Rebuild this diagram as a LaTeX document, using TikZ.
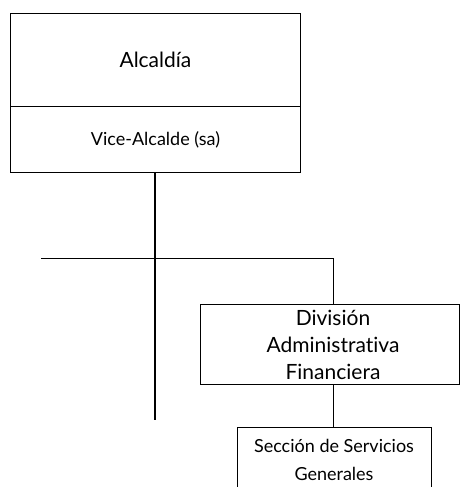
\documentclass[tikz,border=0pt]{standalone}
\usepackage{fontspec}
\setmainfont{Lato}[Ligatures=NoCommon]
\begin{document}
\begin{tikzpicture}[x=1pt,y=-1pt,
  box/.style={draw,line width=0.9pt,rectangle,inner sep=0pt,anchor=north west},
  conn/.style={line width=0.9pt},
  trunk/.style={line width=1.8pt}]
\useasboundingbox (0,0) rectangle (460,487);
\node[box,minimum width=290pt,minimum height=93pt,font=\fontsize{21}{24}\selectfont] (alc) at (10,13) {Alcaldía};
\node[box,minimum width=290pt,minimum height=66pt,font=\fontsize{18}{21}\selectfont] (vice) at (10,106) {Vice-Alcalde (sa)};
\node[box,minimum width=259pt,minimum height=80pt] (div) at (200,304) {};
\node[font=\fontsize{21}{27}\selectfont,align=center] (divt) at (333,345) {División\\Administrativa\\Financiera};
\node[box,minimum width=194pt,minimum height=70pt] (sec) at (237,427) {};
\node[font=\fontsize{18}{28}\selectfont,align=center,anchor=north] (sect) at (334,436) {Sección de Servicios\\Generales};
\coordinate (top) at (vice.south -| 155,0);
\coordinate (bot) at (155,420);
\coordinate (hl) at (41,258);
\coordinate (hr) at (333,258);
\draw[trunk] (top) -- (bot);
\draw[conn] (hl) -- (hr) -- (div.north -| hr);
\draw[conn] (div.south -| hr) -- (sec.north -| hr);
\end{tikzpicture}
\end{document}
